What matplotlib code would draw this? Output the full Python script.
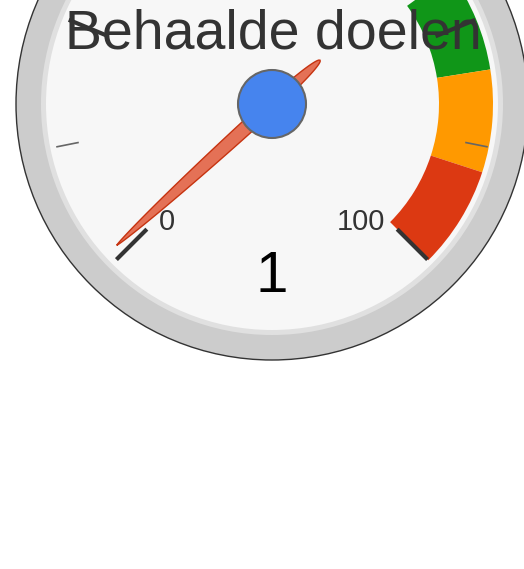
import numpy as np
import matplotlib
matplotlib.use("Agg")
import matplotlib.pyplot as plt
from matplotlib.patches import Circle, Wedge, Polygon

# ---- data ----
title = "Behaalde doelen"
value = 1
gauge_min = 0
gauge_max = 100
major_tick_values = [0, 25, 50, 75, 100]
major_tick_labels = ["0", "", "", "", "100"]
minor_tick_values = [12.5, 37.5, 62.5, 87.5]
band_from = [70, 80, 90]
band_to = [80, 90, 100]
band_colors = ["#109618", "#FF9900", "#DC3912"]

# ---- geometry (pixels) ----
W, H = 524, 569
cx, cy = 272, 104
R = 256

plt.rcParams['font.family'] = ['Liberation Sans', 'DejaVu Sans']
fig = plt.figure(figsize=(W / 100, H / 100), dpi=100)
ax = fig.add_axes([0, 0, 1, 1])
ax.set_xlim(0, W)
ax.set_ylim(H, 0)
ax.set_aspect('equal')
ax.axis('off')


def theta(v):
    return np.deg2rad(-135 + 270 * (v - gauge_min) / (gauge_max - gauge_min))


def pt(r, v):
    t = theta(v)
    return cx + r * np.sin(t), cy - r * np.cos(t)


def phi_deg(v):
    # data-space angle for Wedge (y axis inverted)
    return np.rad2deg(theta(v)) - 90


# outer ring
ax.add_patch(Circle((cx, cy), R, facecolor="#cccccc", edgecolor="#333333", lw=1.0, zorder=1))
ax.add_patch(Circle((cx, cy), 231, facecolor="#e0e0e0", edgecolor="none", zorder=2))
ax.add_patch(Circle((cx, cy), 226, facecolor="#f7f7f7", edgecolor="none", zorder=3))

# colour bands
for f, t_, c in zip(band_from, band_to, band_colors):
    ax.add_patch(Wedge((cx, cy), 221, phi_deg(f), phi_deg(t_), width=221 - 167,
                       facecolor=c, edgecolor="none", zorder=4))

# title
ax.text(cx + 1, 48, title, ha='center', va='baseline', fontsize=40, color="#333333", zorder=5)

# minor ticks
for v in minor_tick_values:
    x0, y0 = pt(197, v)
    x1, y1 = pt(220, v)
    ax.plot([x0, x1], [y0, y1], color="#666666", lw=1.2, solid_capstyle='butt', zorder=6)

# major ticks
for v, lab in zip(major_tick_values, major_tick_labels):
    x0, y0 = pt(177, v)
    x1, y1 = pt(220, v)
    ax.plot([x0, x1], [y0, y1], color="#333333", lw=3.0, solid_capstyle='butt', zorder=6)
    if lab:
        lx, ly = pt(160, v)
        ha = 'left' if lx < cx else 'right'
        ax.text(lx, ly + 13, lab, ha=ha, va='baseline', fontsize=21, color="#333333", zorder=7)

# value text
ax.text(cx, 292, str(value), ha='center', va='baseline', fontsize=42, color="#000000", zorder=7)

# needle
L, T, Wn = 210, 65, 7.0
th = theta(value)
u = np.array([np.sin(th), -np.cos(th)])
n = np.array([np.cos(th), np.sin(th)])
tf = np.linspace(0, L, 160)
wf = Wn * np.clip(1 - (tf / L) ** 2, 0, 1) ** 0.7
tb = np.linspace(0, -T, 90)
wb = 5.5 * np.clip(1 - (np.abs(tb) / T) ** 2.5, 0, 1) ** 0.5 + (Wn - 5.5) * (1 - np.abs(tb) / T) ** 4
side_t = np.concatenate([tb[::-1], tf])
side_w = np.concatenate([wb[::-1], wf])
pts_a = [np.array([cx, cy]) + t * u + w * n for t, w in zip(side_t, side_w)]
pts_b = [np.array([cx, cy]) + t * u - w * n for t, w in zip(side_t[::-1], side_w[::-1])]
poly = np.array(pts_a + pts_b)
ax.add_patch(Polygon(poly, closed=True, facecolor=(0.863, 0.224, 0.071, 0.7),
                     edgecolor="#c63310", lw=1.0, zorder=8))

# hub
ax.add_patch(Circle((cx, cy), 34, facecolor="#4684ee", edgecolor="#666666", lw=1.5, zorder=9))

fig.savefig("out.png", dpi=100, facecolor="white")
